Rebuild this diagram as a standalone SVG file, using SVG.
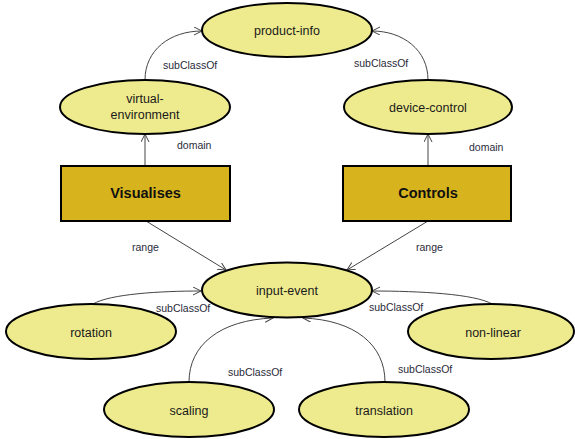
<svg xmlns="http://www.w3.org/2000/svg" width="575" height="439" viewBox="0 0 575 439">
<style>
.node ellipse{fill:#EEEB8E;stroke:#000;stroke-width:2}
.node rect{fill:#D7B41E;stroke:#000;stroke-width:2}
.nt{font-family:"Liberation Sans",Arial,sans-serif;font-size:12.5px;fill:#1a1a1a;text-anchor:middle}
.bt{font-family:"Liberation Sans",Arial,sans-serif;font-size:14.5px;font-weight:bold;fill:#111;text-anchor:middle}
.lbl{font-family:"Liberation Sans",Arial,sans-serif;font-size:10.5px;fill:#2a2a3a}
.edge{fill:none;stroke:#444;stroke-width:1;marker-end:url(#arr)}
</style>
<defs>
<marker id="arr" markerUnits="userSpaceOnUse" markerWidth="10" markerHeight="10" refX="8" refY="4" orient="auto">
<path d="M0,0 L8,4 L0,8" fill="none" stroke="#444" stroke-width="1"/>
</marker>
</defs>
<g id="connectors">
<path class="edge" d="M145,80 C145,50 170,31 202,31"/>
<path class="edge" d="M428,80 C428,50 403,31 372,31"/>
<path class="edge" d="M145,166 L145,134"/>
<path class="edge" d="M428,166 L428,134"/>
<path class="edge" d="M146,221 L226,270"/>
<path class="edge" d="M428,221 L347,270"/>
<path class="edge" d="M93,304 C110,294 160,291 201,291"/>
<path class="edge" d="M492,304 C475,294 420,291 372,291"/>
<path class="edge" d="M189,382 C189,345 220,320 273,318"/>
<path class="edge" d="M385,382 C385,345 355,320 303,318"/>
<text class="lbl" x="163" y="69">subClassOf</text>
<text class="lbl" x="354" y="67">subClassOf</text>
<text class="lbl" x="177" y="149">domain</text>
<text class="lbl" x="469" y="151">domain</text>
<text class="lbl" x="132" y="251">range</text>
<text class="lbl" x="416" y="251">range</text>
<text class="lbl" x="156" y="312">subClassOf</text>
<text class="lbl" x="369" y="311">subClassOf</text>
<text class="lbl" x="228" y="376">subClassOf</text>
<text class="lbl" x="398" y="373">subClassOf</text>
</g>
<g id="product-info" class="node"><ellipse cx="287" cy="30" rx="85" ry="27"/><text class="nt" x="287" y="35">product-info</text></g>
<g id="virtual-environment" class="node"><ellipse cx="145" cy="107" rx="85" ry="27"/><text class="nt" x="145" y="103">virtual-</text><text class="nt" x="145" y="119">environment</text></g>
<g id="device-control" class="node"><ellipse cx="428" cy="107" rx="84" ry="27"/><text class="nt" x="428" y="111.5">device-control</text></g>
<g id="Visualises" class="node"><rect x="61" y="166" width="169" height="55"/><text class="bt" x="145.5" y="198">Visualises</text></g>
<g id="Controls" class="node"><rect x="343" y="166" width="168" height="55"/><text class="bt" x="428" y="198">Controls</text></g>
<g id="input-event" class="node"><ellipse cx="287" cy="290" rx="85" ry="27.5"/><text class="nt" x="287" y="295">input-event</text></g>
<g id="rotation" class="node"><ellipse cx="91" cy="331.5" rx="85" ry="27.5"/><text class="nt" x="91" y="337">rotation</text></g>
<g id="non-linear" class="node"><ellipse cx="491" cy="331.5" rx="83" ry="27.5"/><text class="nt" x="493" y="337">non-linear</text></g>
<g id="scaling" class="node"><ellipse cx="189" cy="409.5" rx="85" ry="27.5"/><text class="nt" x="189" y="415">scaling</text></g>
<g id="translation" class="node"><ellipse cx="384" cy="409.5" rx="85" ry="27.5"/><text class="nt" x="384" y="415">translation</text></g>
</svg>
